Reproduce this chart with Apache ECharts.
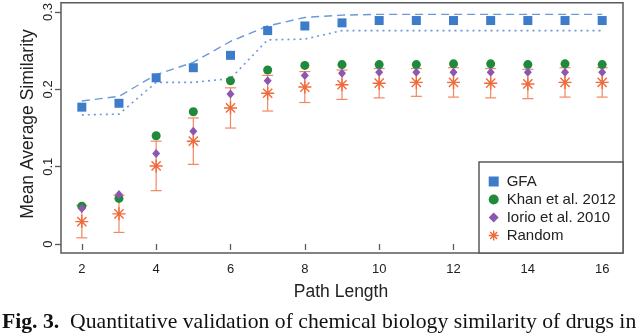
<!DOCTYPE html>
<html>
<head>
<meta charset="utf-8">
<script src="https://cdn.jsdelivr.net/npm/echarts@6/dist/echarts.min.js"></script>
<style>
html,body{margin:0;padding:0;background:#fff;}
#chart{width:640px;height:334px;}
</style>
</head>
<body>
<div id="chart"></div>
<script>
var pathLength = [2,3,4,5,6,7,8,9,10,11,12,13,14,15,16];
var gfa      = [0.177,0.182,0.215,0.228,0.244,0.276,0.282,0.286,0.289,0.289,0.289,0.289,0.289,0.289,0.289];
var gfaUpper = [0.185,0.191,0.219,0.235,0.262,0.282,0.293,0.296,0.297,0.297,0.297,0.297,0.297,0.297,0.297];
var gfaLower = [0.167,0.168,0.209,0.209,0.214,0.264,0.265,0.276,0.276,0.276,0.276,0.276,0.276,0.276,0.276];
var khan     = [0.049,0.059,0.140,0.171,0.211,0.225,0.231,0.232,0.232,0.232,0.233,0.233,0.232,0.233,0.232];
var iorio    = [0.046,0.064,0.117,0.146,0.194,0.211,0.218,0.221,0.222,0.222,0.222,0.222,0.222,0.222,0.222];
var randomMean = [0.029,0.039,0.101,0.133,0.176,0.195,0.203,0.206,0.208,0.209,0.209,0.208,0.207,0.209,0.209];
var randomErr  = [0.021,0.024,0.032,0.030,0.026,0.023,0.020,0.019,0.019,0.018,0.019,0.019,0.019,0.019,0.019];
var xTicks = [2,4,6,8,10,12,14,16];
var yTicks = [0,0.1,0.2,0.3];
var seriesNames = ['GFA','Khan et al. 2012','Iorio et al. 2010','Random'];

var C_BLUE = '#3d7cc9', C_LINE = '#6b9ad6', C_GREEN = '#1f8a3b', C_PURPLE = '#8c56b1', C_ORANGE = '#f06a3a', C_ERR = '#f3875f';
var AXIS = '#5a5a5a', TXT = '#222';
var asterisk = 'path://M0,6L12,6M6,0L6,12M1.76,1.76L10.24,10.24M10.24,1.76L1.76,10.24';

function pairs(ys){ return pathLength.map(function(x,i){ return [x, ys[i]]; }); }
var errData = pathLength.map(function(x,i){ return [x, randomMean[i]-randomErr[i], randomMean[i]+randomErr[i]]; });

var chart = echarts.init(document.getElementById('chart'), null, {renderer:'canvas'});
chart.setOption({
  animation:false,
  backgroundColor:'#fff',
  grid:{left:61, right:17, top:1, bottom:81, show:true, borderColor:AXIS, borderWidth:1.5, backgroundColor:'transparent'},
  xAxis:{type:'value', min:1.44, max:16.56,
    axisLine:{show:false}, splitLine:{show:false},
    axisTick:{show:true, customValues:xTicks, length:6, inside:false, lineStyle:{color:AXIS, width:1.3}},
    axisLabel:{customValues:xTicks, color:TXT, fontSize:13, fontFamily:'Liberation Sans, Arial, sans-serif', margin:10}
  },
  yAxis:{type:'value', min:-0.0116, max:0.312,
    axisLine:{show:false}, splitLine:{show:false},
    axisTick:{show:true, customValues:yTicks, length:6, lineStyle:{color:AXIS, width:1.3}},
    axisLabel:{customValues:yTicks, rotate:90, color:TXT, fontSize:13, fontFamily:'Liberation Sans, Arial, sans-serif', margin:6,
      formatter:function(v){ return String(Math.round(v*10)/10); }}
  },
  legend:{left:479, top:162, orient:'vertical', itemWidth:10, itemHeight:10, itemGap:3, padding:[12,6,10,9], z:6,
    textStyle:{fontSize:15, color:TXT, fontFamily:'Liberation Sans, Arial, sans-serif', lineHeight:15, padding:[0,0,0,3]},
    data:[
      {name:seriesNames[0], icon:'rect'},
      {name:seriesNames[1], icon:'circle'},
      {name:seriesNames[2], icon:'diamond'},
      {name:seriesNames[3], icon:asterisk, itemStyle:{color:'transparent', borderColor:C_ORANGE, borderWidth:1.4}}
    ]
  },
  graphic:[
    {type:'rect', z:5, shape:{x:479, y:162, width:144, height:91}, style:{fill:'#fff', stroke:AXIS, lineWidth:1.5}},
    {type:'text', z:10, x:341, y:292, style:{text:'Path Length', font:'17.5px "Liberation Sans", Arial, sans-serif', fill:TXT, align:'center', verticalAlign:'middle'}},
    {type:'text', z:10, x:28, y:124, rotation:Math.PI/2, style:{text:'Mean Average Similarity', font:'17.5px "Liberation Sans", Arial, sans-serif', fill:TXT, align:'center', verticalAlign:'middle'}},
    {type:'text', z:10, x:2, y:322, style:{text:'{b|Fig. 3.}  Quantitative validation of chemical biology similarity of drugs in', font:'21.7px "Liberation Serif", "Times New Roman", serif', fill:'#111', verticalAlign:'middle',
      rich:{b:{fontWeight:'bold', fontSize:21.7, fontFamily:'"Liberation Serif", serif', fill:'#111'}}}}
  ],
  series:[
    {name:'errbar', type:'custom', data:errData, z:2, silent:true,
      renderItem:function(params, api){
        var x = api.value(0);
        var lo = api.coord([x, api.value(1)]);
        var hi = api.coord([x, api.value(2)]);
        var w = 5.5;
        var st = {stroke:C_ERR, lineWidth:1.2};
        return {type:'group', children:[
          {type:'line', shape:{x1:lo[0], y1:lo[1], x2:hi[0], y2:hi[1]}, style:st},
          {type:'line', shape:{x1:lo[0]-w, y1:lo[1], x2:lo[0]+w, y2:lo[1]}, style:st},
          {type:'line', shape:{x1:hi[0]-w, y1:hi[1], x2:hi[0]+w, y2:hi[1]}, style:st}
        ]};
      }},
    {name:'GFA upper', type:'line', data:pairs(gfaUpper), showSymbol:false, smooth:false, silent:true, z:2,
      lineStyle:{color:C_LINE, width:1.4, type:[8,5]}},
    {name:'GFA lower', type:'line', data:pairs(gfaLower), showSymbol:false, smooth:false, silent:true, z:2,
      lineStyle:{color:C_LINE, width:1.6, type:[2,4]}},
    {name:seriesNames[0], type:'scatter', data:pairs(gfa), symbol:'rect', symbolSize:9, z:3, itemStyle:{color:C_BLUE, opacity:1}},
    {name:seriesNames[1], type:'scatter', data:pairs(khan), symbol:'circle', symbolSize:9, z:3, itemStyle:{color:C_GREEN, opacity:1}},
    {name:seriesNames[2], type:'scatter', data:pairs(iorio), symbol:'diamond', symbolSize:[8,9], z:3, itemStyle:{color:C_PURPLE, opacity:1}},
    {name:seriesNames[3], type:'scatter', data:pairs(randomMean), symbol:asterisk, symbolSize:13, z:4,
      itemStyle:{color:'transparent', borderColor:C_ORANGE, borderWidth:1.4, opacity:1}}
  ]
});
</script>
</body>
</html>
